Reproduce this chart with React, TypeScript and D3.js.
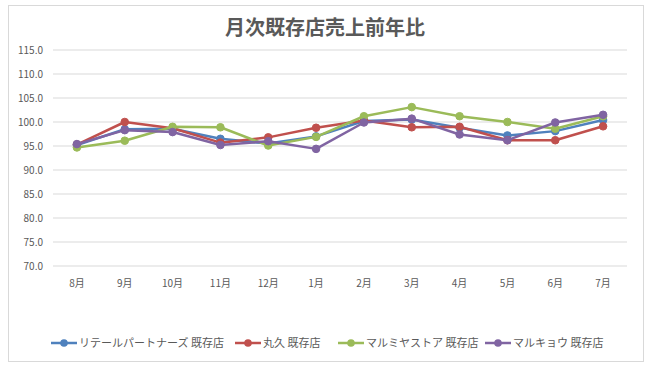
import React from "react";
import * as d3 from "d3";

const months = ["8月", "9月", "10月", "11月", "12月", "1月", "2月", "3月", "4月", "5月", "6月", "7月"];
const seriesNames = ["リテールパートナーズ 既存店", "丸久 既存店", "マルミヤストア 既存店", "マルキョウ 既存店"];
const retailPartners = [95.2, 98.5, 98.6, 96.5, 95.5, 97.0, 100.2, 100.5, 98.8, 97.2, 98.1, 100.4];
const marukyu = [95.3, 100.0, 98.7, 95.7, 96.8, 98.8, 100.3, 98.9, 99.0, 96.2, 96.2, 99.1];
const marumiya = [94.7, 96.1, 99.0, 98.9, 95.1, 96.9, 101.2, 103.1, 101.2, 100.0, 98.6, 101.2];
const marukyo = [95.4, 98.3, 97.9, 95.2, 96.0, 94.4, 99.9, 100.7, 97.4, 96.2, 99.9, 101.5];
const yTicks = [70, 75, 80, 85, 90, 95, 100, 105, 110, 115];
const colors = ["#4F81BD", "#C0504D", "#9BBB59", "#8064A2"];

const W = 650;
const H = 367;
const font = "'Noto Sans CJK JP', 'Noto Sans', sans-serif";

export default function App() {
  const allSeries = [retailPartners, marukyu, marumiya, marukyo];
  const x = d3.scaleBand<string>().domain(months).range([53, 627]);
  const y = d3.scaleLinear().domain([70, 115]).range([266, 50]);
  const cx = (m: string) => (x(m) as number) + x.bandwidth() / 2;
  const line = d3
    .line<number>()
    .x((_, i) => cx(months[i]))
    .y((d) => y(d));

  const legendX = [51, 235, 338, 485];

  return (
    <svg width={W} height={H} style={{ position: "absolute", left: 0, top: 0 }}>
      <rect x={0} y={0} width={W} height={H} fill="#fff" />
      <rect x={8.5} y={5.5} width={635} height={356} fill="#fff" stroke="#d9d9d9" />
      <text x={325} y={35} textAnchor="middle" fontFamily={font} fontSize={20} fontWeight="bold" fill="#595959">
        月次既存店売上前年比
      </text>
      {yTicks.map((t) => (
        <g key={t}>
          <line x1={53} x2={627} y1={y(t)} y2={y(t)} stroke="#d9d9d9" strokeWidth={1} />
          <text x={43} y={y(t) + 4} textAnchor="end" fontFamily={font} fontSize={10} fill="#595959">
            {t.toFixed(1)}
          </text>
        </g>
      ))}
      {months.map((m) => (
        <text key={m} x={cx(m)} y={287} textAnchor="middle" fontFamily={font} fontSize={10} fill="#595959">
          {m}
        </text>
      ))}
      {allSeries.map((s, si) => (
        <g key={si}>
          <path d={line(s) as string} fill="none" stroke={colors[si]} strokeWidth={2.5} strokeLinejoin="round" />
          {s.map((v, i) => (
            <circle key={i} cx={cx(months[i])} cy={y(v)} r={3.8} fill={colors[si]} stroke={colors[si]} />
          ))}
        </g>
      ))}
      {seriesNames.map((n, i) => (
        <g key={n}>
          <line x1={legendX[i]} x2={legendX[i] + 26} y1={343} y2={343} stroke={colors[i]} strokeWidth={2.5} />
          <circle cx={legendX[i] + 13} cy={343} r={3.8} fill={colors[i]} />
          <text x={legendX[i] + 28} y={347} fontFamily={font} fontSize={11} fill="#595959">
            {n}
          </text>
        </g>
      ))}
    </svg>
  );
}
